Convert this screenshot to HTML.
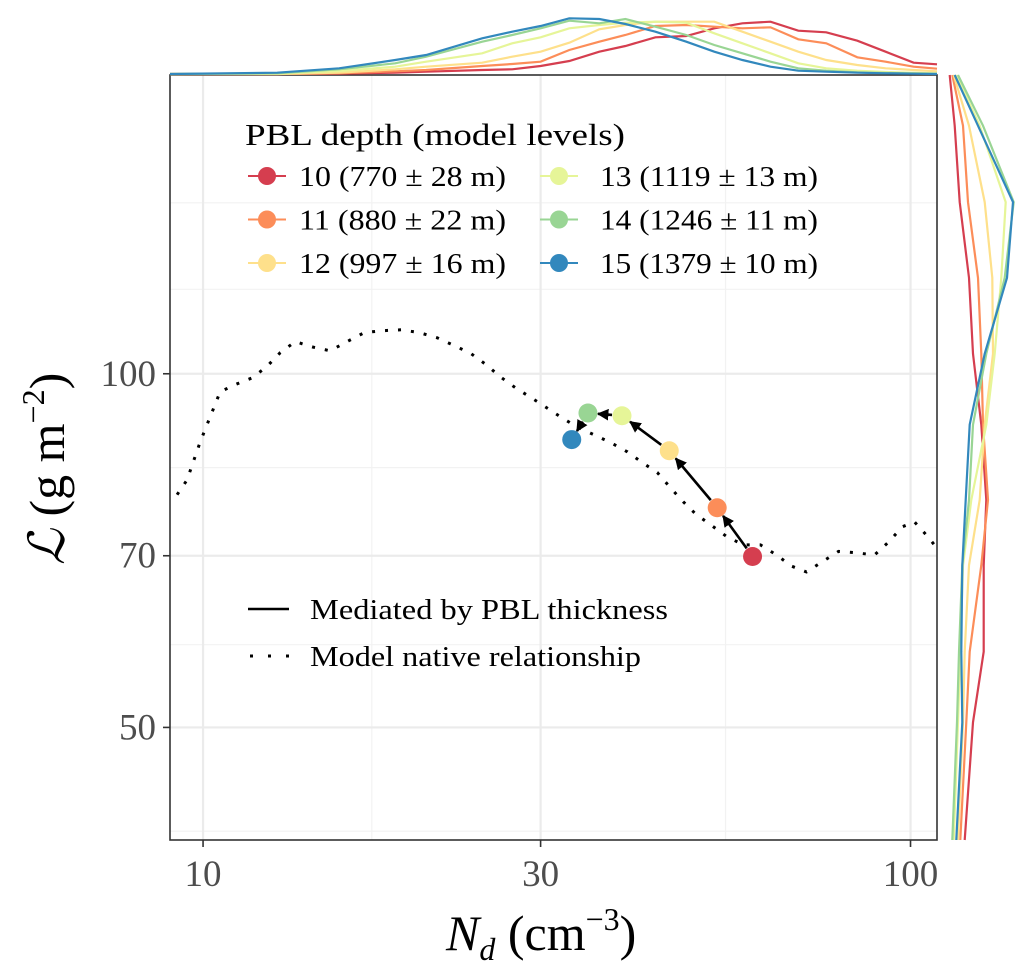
<!DOCTYPE html>
<html><head><meta charset="utf-8">
<style>
html,body{margin:0;padding:0;background:#fff;}
svg{display:block;font-family:"Liberation Serif",serif;}
</style></head>
<body>
<svg id="chart" width="1033" height="973" viewBox="0 0 1033 973" xmlns="http://www.w3.org/2000/svg">
<defs>
<marker id="ah" viewBox="0 0 10 10" refX="9" refY="5" markerWidth="4.5" markerHeight="4.5" orient="auto" markerUnits="strokeWidth">
<path d="M0,0 L10,5 L0,10 z" fill="#000"/></marker>
</defs>
<g id="grid"></g>
<g id="native"></g>
<g id="mediated"></g>
<g id="points"></g>
<rect x="170" y="75" width="767" height="765" fill="none" stroke="#333" stroke-width="1.6"/>
<g id="axes"></g>
<g id="margTop"></g>
<g id="margRight"></g>
<text x="446" y="950" font-size="50" fill="#000"><tspan font-style="italic">N</tspan><tspan font-style="italic" font-size="32" dy="10">d</tspan><tspan dy="-10"> (cm</tspan><tspan font-size="32" dy="-20">−3</tspan><tspan dy="20">)</tspan></text>
<text transform="translate(64,565) rotate(-90)" font-size="50" fill="#000"><tspan font-style="italic">ℒ</tspan><tspan> (g m</tspan><tspan font-size="32" dy="-20">−2</tspan><tspan dy="20">)</tspan></text>
<g id="legend">
<text x="245" y="145" font-size="31" textLength="380" lengthAdjust="spacingAndGlyphs" fill="#000">PBL depth (model levels)</text>
</g>
<g>
<line x1="248" y1="609" x2="289" y2="609" stroke="#000" stroke-width="2.4"/>
<text x="310" y="619" font-size="29" textLength="358" lengthAdjust="spacingAndGlyphs">Mediated by PBL thickness</text>
<line x1="250" y1="656" x2="290" y2="656" stroke="#000" stroke-width="3" stroke-dasharray="3,15"/>
<text x="310" y="666" font-size="29" textLength="331" lengthAdjust="spacingAndGlyphs">Model native relationship</text>
</g>
</svg>
<script>
// ---- data ----
const levels = ["10","11","12","13","14","15"];
const legendLabels = ["10 (770 ± 28 m)","11 (880 ± 22 m)","12 (997 ± 16 m)","13 (1119 ± 13 m)","14 (1246 ± 11 m)","15 (1379 ± 10 m)"];
const colors = ["#D53E4F","#FC8D59","#FEE08B","#E6F598","#99D594","#3288BD"];
const pointNd = [59.8, 53.3, 45.6, 39.1, 35.0, 33.2];
const pointL  = [69.9, 76.9, 86.0, 92.1, 92.6, 87.9];
const nativeNd = [9.19,9.49,9.90,10.1,10.36,10.57,11.1,11.73,12.3,12.85,13.5,14.26,15.12,15.98,16.9,17.92,19.06,20.21,21.43,22.72,23.94,25.13,26.31,27.63,29.11,30.56,32.2,33.8,35.73,37.65,39.8,41.78,43.86,45.76,47.74,49.65,52.13,54.92,58.05,61.36,64.65,67.88,71.28,75.09,79.11,83.88,88.94,93.09,97.43,101.3,105.7,109.5];
const nativeL  = [78.9,81.2,87.4,90.1,93.6,96.5,97.9,99.2,101.4,104.2,106.5,105.4,104.6,106.5,108.4,108.8,109.0,108.4,107.3,105.6,104.0,101.8,99.4,97.3,95.4,93.6,91.7,90.1,88.7,87.4,85.8,84.0,82.4,80.0,77.8,76.0,74.4,72.7,71.5,71.5,70.1,68.6,67.8,69.2,70.6,70.4,70.1,71.9,74.1,74.8,72.7,70.8];
const xTicks = [10, 30, 100];
const xTickLabels = ["10","30","100"];
const xMinor = [17.32, 54.77];
const yTicks = [50, 70, 100];
const yTickLabels = ["50","70","100"];
const yMinor = [40.8, 58.8, 83.2, 118, 139.8];
const densNd = [8.98,12.73,15.57,18.69,20.67,24.81,27.35,30.0,32.94,36.32,39.54,43.59,48.2,52.8,57.86,63.4,69.4,76.0,84.1,92.2,101,109];
const densX10 = [0,0,0.3,1.3,2.3,4,4.7,8,13,22.3,28,36.7,38,45.7,50.7,52.3,43.3,41.7,33.3,22.3,11.3,9.7];
const densX11 = [0,0,0.7,2.7,4,8,10,12.3,24,32.3,39,48,49,47.3,45.7,46.7,34.7,30.7,16.7,12.3,7.3,5.3];
const densX12 = [0,0,1.3,4.7,7.3,11.3,17.3,22.3,31.3,44.7,49,52.3,52.3,52.3,42.3,32.3,22.3,14,9,5.7,4,2.7];
const densX13 = [0,0.3,3,7.3,12.3,20.7,30.7,36.7,45.7,49,51.3,52.3,51.3,40.7,30.7,20.7,10.7,5.7,3.3,2,1.3,0.7];
const densX14 = [0,0.7,4.7,10.7,17.3,32.3,39,45.7,53.3,50.7,55,47.3,39,29,20.7,12.3,5.7,3.3,1.7,1,0.7,0.3];
const densX15 = [0,1.3,5.7,14,19,35.7,42.3,48,55.7,55,50,42.3,32.3,22.3,14,7.3,3.3,2.3,1.3,0.7,0.3,0];
const densXSeries = [densX10,densX11,densX12,densX13,densX14,densX15];
const densL = [179.6,162.6,140,120.7,104.0,90.5,78.1,68.7,58.0,50.5,40.1];
const densY10 = [1.7,6.7,11.7,21,25,33.3,38.3,35.7,35.7,25,16.7];
const densY11 = [4.3,15,20,30,33.3,35,40,33.3,21.7,18.3,12.3];
const densY12 = [5.7,21,36.7,44.3,45,36.7,31.7,21,16.7,15,10];
const densY13 = [8.3,31.7,57.7,53.3,46.7,38.3,23.3,15,12.3,10,5.7];
const densY14 = [10,35,65.7,56.7,38.3,25,21,14.3,11,9,4.3];
const densY15 = [6.7,30,65,59,36.7,21.7,17.7,14.3,13.3,14.3,8.3];
const densYSeries = [densY10,densY11,densY12,densY13,densY14,densY15];

// ---- scales ----
const X0=170,X1=937,Y0=75,Y1=840;
const xMin=Math.log10(8.98), xMax=Math.log10(109.0);
const yMin=Math.log10(40.1), yMax=Math.log10(179.6);
const sx = v => X0 + (Math.log10(v)-xMin)/(xMax-xMin)*(X1-X0);
const sy = v => Y1 - (Math.log10(v)-yMin)/(yMax-yMin)*(Y1-Y0);
const NS="http://www.w3.org/2000/svg";
function mk(tag, attrs, parent){const e=document.createElementNS(NS,tag);for(const k in attrs)e.setAttribute(k,attrs[k]);parent.appendChild(e);return e;}

const grid=document.getElementById('grid');
mk('rect',{x:X0,y:Y0,width:X1-X0,height:Y1-Y0,fill:'#fff'},grid);
xMinor.forEach(v=>{const l=mk('line',{x1:sx(v),x2:sx(v),y1:Y0,y2:Y1,stroke:'#f2f2f2','stroke-width':1.2},grid);

});
yMinor.forEach(v=>{const l=mk('line',{x1:X0,x2:X1,y1:sy(v),y2:sy(v),stroke:'#f2f2f2','stroke-width':1.2},grid);

});
xTicks.forEach(v=>{const l=mk('line',{x1:sx(v),x2:sx(v),y1:Y0,y2:Y1,stroke:'#ebebeb','stroke-width':2.2},grid);

});
yTicks.forEach(v=>{const l=mk('line',{x1:X0,x2:X1,y1:sy(v),y2:sy(v),stroke:'#ebebeb','stroke-width':2.2},grid);

});

const nat=document.getElementById('native');
const np=mk('polyline',{points:nativeNd.map((v,i)=>sx(v).toFixed(1)+','+sy(nativeL[i]).toFixed(1)).join(' '),fill:'none',stroke:'#000','stroke-width':3,'stroke-dasharray':'3,10'},nat);



const med=document.getElementById('mediated');
for(let i=0;i<pointNd.length-1;i++){
  const xa=sx(pointNd[i]),ya=sy(pointL[i]),xb=sx(pointNd[i+1]),yb=sy(pointL[i+1]);
  const d=Math.hypot(xb-xa,yb-ya),ux=(xb-xa)/d,uy=(yb-ya)/d,r=10;
  const a=mk('line',{x1:xa+ux*r,y1:ya+uy*r,x2:xb-ux*r,y2:yb-uy*r,stroke:'#000','stroke-width':2.6,'marker-end':'url(#ah)'},med);
  
  
}
const pts=document.getElementById('points');
pointNd.forEach((v,i)=>{const c=mk('circle',{cx:sx(v),cy:sy(pointL[i]),r:9.5,fill:colors[i]},pts);

});

const ax=document.getElementById('axes');
xTicks.forEach((v,i)=>{mk('line',{x1:sx(v),x2:sx(v),y1:Y1,y2:Y1+7,stroke:'#333','stroke-width':1.6},ax);
const t=mk('text',{x:sx(v),y:886,'text-anchor':'middle','font-size':37,fill:'#4d4d4d'},ax);t.textContent=xTickLabels[i];

});
yTicks.forEach((v,i)=>{mk('line',{x1:X0-7,x2:X0,y1:sy(v),y2:sy(v),stroke:'#333','stroke-width':1.6},ax);
const t=mk('text',{x:156,y:sy(v)+12,'text-anchor':'end','font-size':37,fill:'#4d4d4d'},ax);t.textContent=yTickLabels[i];

});

const mt=document.getElementById('margTop'), BT=74;
densXSeries.forEach((s,k)=>{const p=mk('polyline',{points:densNd.map((v,i)=>sx(v).toFixed(1)+','+(BT-s[i]).toFixed(1)).join(' '),fill:'none',stroke:colors[k],'stroke-width':2.2},mt);

});
const mr=document.getElementById('margRight'), BR=948;
densYSeries.forEach((s,k)=>{const p=mk('polyline',{points:densL.map((v,i)=>(BR+s[i]).toFixed(1)+','+sy(v).toFixed(1)).join(' '),fill:'none',stroke:colors[k],'stroke-width':2.2},mr);

});

const lg=document.getElementById('legend');
const lgLen=[207,207,207,218,218,218];
legendLabels.forEach((lab,i)=>{
  const col=Math.floor(i/3),row=i%3;
  const kx=col?559:267, tx=col?600:299, cy=176+row*43.5;
  const g=mk('g',{},lg);
  
  
  mk('line',{x1:kx-19,x2:kx+19,y1:cy,y2:cy,stroke:colors[i],'stroke-width':2},g);
  mk('circle',{cx:kx,cy:cy,r:9,fill:colors[i]},g);
  const t=mk('text',{x:tx,y:cy+10,'font-size':29,fill:'#000',textLength:lgLen[i],lengthAdjust:'spacingAndGlyphs'},g);t.textContent=lab;
});
</script>
</body></html>
